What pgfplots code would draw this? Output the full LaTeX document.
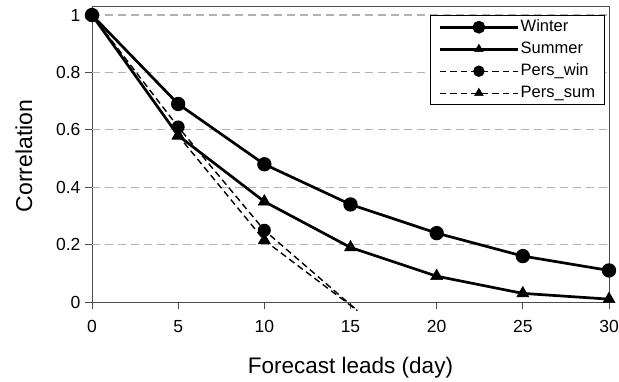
\documentclass[border=0pt]{standalone}
\usepackage{fontspec}
\setmainfont{Liberation Sans}
\usepackage{pgfplots}
\pgfplotsset{compat=1.18}
\begin{document}
\begin{tikzpicture}[x=1pt,y=1pt]
\useasboundingbox (0,0) rectangle (619,381);
\begin{axis}[
  at={(92pt,79pt)}, anchor=south west,
  scale only axis, width=517pt, height=295pt,
  xmin=0, xmax=30, ymin=0, ymax=1.028,
  xtick={0,5,10,15,20,25,30},
  ytick={0,0.2,0.4,0.6,0.8,1},
  extra y ticks={0.2,0.4,0.6,0.8,1},
  extra y tick labels={},
  extra y tick style={ymajorgrids=true, major tick length=0pt},
  grid style={gray!60, dash pattern=on 8pt off 5pt, line width=1.3pt},
  tick align=outside, major tick length=7pt,
  xtick pos=bottom, ytick pos=left,
  tick style={black!70, line width=1pt},
  axis line style={black!70, line width=1pt},
  ticklabel style={font=\fontsize{17.5}{20}\selectfont},
  /pgf/number format/assume math mode=true,
  xticklabel style={yshift=-8pt},
  yticklabel style={xshift=-1pt},
  xlabel={Forecast leads (day)},
  xlabel style={font=\fontsize{22.5}{24}\selectfont, at={(axis description cs:0.5,-0.244)}, anchor=base},
  ylabel={Correlation},
  ylabel style={font=\fontsize{23}{24}\selectfont, at={(axis description cs:-0.116,0.495)}, anchor=base},
  clip=false,
  legend style={at={(axis description cs:0.9923,0.973)}, anchor=north east,
    draw=black, line width=1pt, fill=white,
    font=\fontsize{16.5}{18}\selectfont,
    inner xsep=8pt, inner ysep=2pt, row sep=2.5pt,
    cells={anchor=west},
    nodes={inner xsep=1.5pt, inner ysep=1.5pt, text height=12.5pt, text depth=4pt}},
  legend image code/.code={%
    \draw[#1, mark indices={2}, mark size=5pt] plot coordinates {(0pt,0pt) (39pt,0pt) (78pt,0pt)};},
  legend cell align=left,
]
\addplot[black, line width=2.7pt, mark=*, mark size=5.8pt, mark options={solid}]
  coordinates {(0,1) (5,0.69) (10,0.48) (15,0.34) (20,0.24) (25,0.16) (30,0.11)};
\addlegendentry{Winter}
\addplot[black, line width=2.7pt, mark=triangle*, mark size=7pt, mark options={solid, line width=0.5pt}]
  coordinates {(0,1) (5,0.58) (10,0.35) (15,0.19) (20,0.09) (25,0.03) (30,0.01)};
\addlegendentry{Summer}
\addplot[black, line width=1.4pt, dash pattern=on 6.5pt off 4pt, mark=*, mark size=5.8pt, mark indices={1,2,3}, mark options={solid}]
  coordinates {(0,1) (5,0.61) (10,0.25) (15.4,-0.03)};
\addlegendentry{Pers\_win}
\addplot[black, line width=1.4pt, dash pattern=on 6.5pt off 4pt, mark=triangle*, mark size=7pt, mark indices={1,2,3}, mark options={solid, line width=0.5pt}]
  coordinates {(0,1) (5,0.58) (10,0.215) (15.4,-0.03)};
\addlegendentry{Pers\_sum}
\end{axis}
\end{tikzpicture}
\end{document}
